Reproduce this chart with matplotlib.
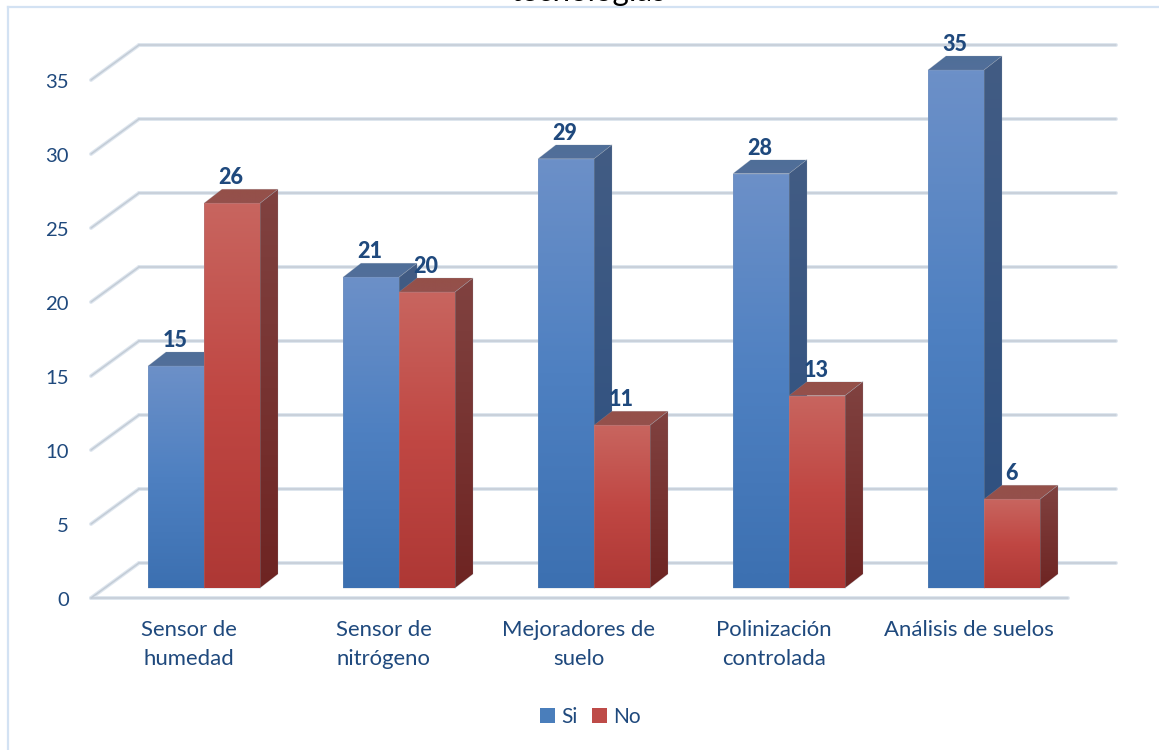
import numpy as np
import matplotlib
matplotlib.use("Agg")
import matplotlib.pyplot as plt
from matplotlib.colors import LinearSegmentedColormap
from matplotlib.lines import Line2D
from matplotlib.patches import Patch, Polygon
from matplotlib.transforms import Affine2D

categories = ["Sensor de\nhumedad", "Sensor de\nnitrógeno", "Mejoradores de\nsuelo",
              "Polinización\ncontrolada", "Análisis de suelos"]
si_values = [15, 21, 29, 28, 35]
no_values = [26, 20, 11, 13, 6]
y_ticks = [0, 5, 10, 15, 20, 25, 30, 35]
title = "tecnologías"

W, H = 1159, 750
TEXT = "#1f497d"
plt.rcParams["font.family"] = ["Lato", "DejaVu Sans"]
fig = plt.figure(figsize=(W / 100, H / 100), dpi=100, facecolor="white")

# axes: x 91..1068 px, y 598..80 px for 0..35
ax = fig.add_axes([91 / W, (H - 598) / H, (1068 - 91) / W, (598 - 80) / H])
ax.patch.set_visible(False)
XLIM = ((91 - 189) / 195, (1068 - 189) / 195)
PX_X = 195.0
PX_Y = (598 - 80) / 35

BAR_T = ax.transData + Affine2D().translate(15, 10)
BAR_W = 56 / PX_X
DX, DY = 18 / PX_X, 14 / PX_Y
BACK_X, BACK_Y = 48 / (1068 - 91), 35 / PX_Y


def grid_line(xs, ys, tr, z=1):
    ax.plot(xs, ys, transform=tr, color="#dde5ee", lw=2.8, solid_capstyle="round",
            clip_on=False, zorder=z)
    ax.plot(xs, ys, transform=tr, color="#c3ccd6", lw=1.1, solid_capstyle="round",
            clip_on=False, zorder=z + 0.1)


ytr = ax.get_yaxis_transform()
for v in y_ticks:
    grid_line([0, BACK_X], [v, v + BACK_Y], ytr)
    grid_line([BACK_X, 1 + BACK_X], [v + BACK_Y, v + BACK_Y], ytr)
grid_line([0, 1], [0, 0], ytr)


def face(pts, colors, z):
    xs = [p[0] for p in pts]
    ys = [p[1] for p in pts]
    cmap = LinearSegmentedColormap.from_list("f", colors)
    im = ax.imshow(np.linspace(0, 1, 128).reshape(-1, 1), cmap=cmap, vmin=0, vmax=1,
                   extent=(min(xs), max(xs), min(ys), max(ys)), origin="upper",
                   aspect="auto", interpolation="bilinear", zorder=z)
    im.set_transform(BAR_T)
    poly = Polygon(pts, closed=True, transform=BAR_T, facecolor="none",
                   edgecolor="#9aa6b4", lw=0.4, alpha=0.35, zorder=z + 0.01)
    ax.add_patch(poly)
    poly.set_clip_on(False)
    im.set_clip_box(fig.bbox)
    im.set_clip_path(poly)


STYLES = {
    "si": dict(front=["#6c90c8", "#4e80c1", "#3c70b1"], side=["#425c84", "#2c4f80"], top=["#4f6e98", "#526f9a"]),
    "no": dict(front=["#c8655f", "#c04743", "#ae3835"], side=["#804240", "#6e2422"], top=["#945049", "#95504c"]),
}


def bar(x0, v, style, z):
    x1 = x0 + BAR_W
    s = STYLES[style]
    face([(x0, v), (x1, v), (x1 + DX, v + DY), (x0 + DX, v + DY)], s["top"], z)
    face([(x1, 0), (x1 + DX, DY), (x1 + DX, v + DY), (x1, v)], s["side"], z)
    face([(x0, 0), (x1, 0), (x1, v), (x0, v)], s["front"], z + 0.1)


for i, (a, b) in enumerate(zip(si_values, no_values)):
    bar(i - BAR_W, a, "si", 3 + i)
    bar(i, b, "no", 3.5 + i)
    for xc, v in ((i - BAR_W / 2, a), (i + BAR_W / 2, b)):
        ax.text(xc, v, str(v), transform=BAR_T + Affine2D().translate(-1, 25.5),
                ha="center", va="center", color=TEXT, fontsize=15.5, fontweight="black", zorder=20)

ax.set_xlim(*XLIM)
ax.set_ylim(0, 35)
ax.set_yticks(y_ticks)
ax.set_xticks(range(len(categories)))
ax.set_xticklabels(categories, linespacing=1.52, fontsize=15.9)
ax.tick_params(axis="both", length=0, labelcolor=TEXT)
ax.tick_params(axis="y", pad=16, labelsize=14.6)
ax.tick_params(axis="x", pad=16)
for lbl in ax.get_yticklabels():
    lbl.set_verticalalignment("center_baseline")
    lbl.set_transform(lbl.get_transform() + Affine2D().translate(0, -1.5))
for sp in ax.spines.values():
    sp.set_visible(False)

handles = [Patch(facecolor="#4a7ebb", label="Si"), Patch(facecolor="#be4b48", label="No")]
fig.legend(handles=handles, loc="center", bbox_to_anchor=(590 / W, (H - 717) / H), ncol=2, frameon=False,
           fontsize=15, labelcolor=TEXT, handlelength=0.72, handleheight=0.72,
           handletextpad=0.3, columnspacing=0.7, borderpad=0)

fig.text(588 / W, (H - 0.5) / H, title, ha="center", va="baseline", fontsize=22.5, color="black")

fig.add_artist(Line2D([8 / W, 8 / W], [0, (H - 7) / H], color="#d3e2f3", lw=1.6))
fig.add_artist(Line2D([8 / W, 1], [(H - 7) / H, (H - 7) / H], color="#d3e2f3", lw=1.6))

fig.savefig("out.png", dpi=100)
